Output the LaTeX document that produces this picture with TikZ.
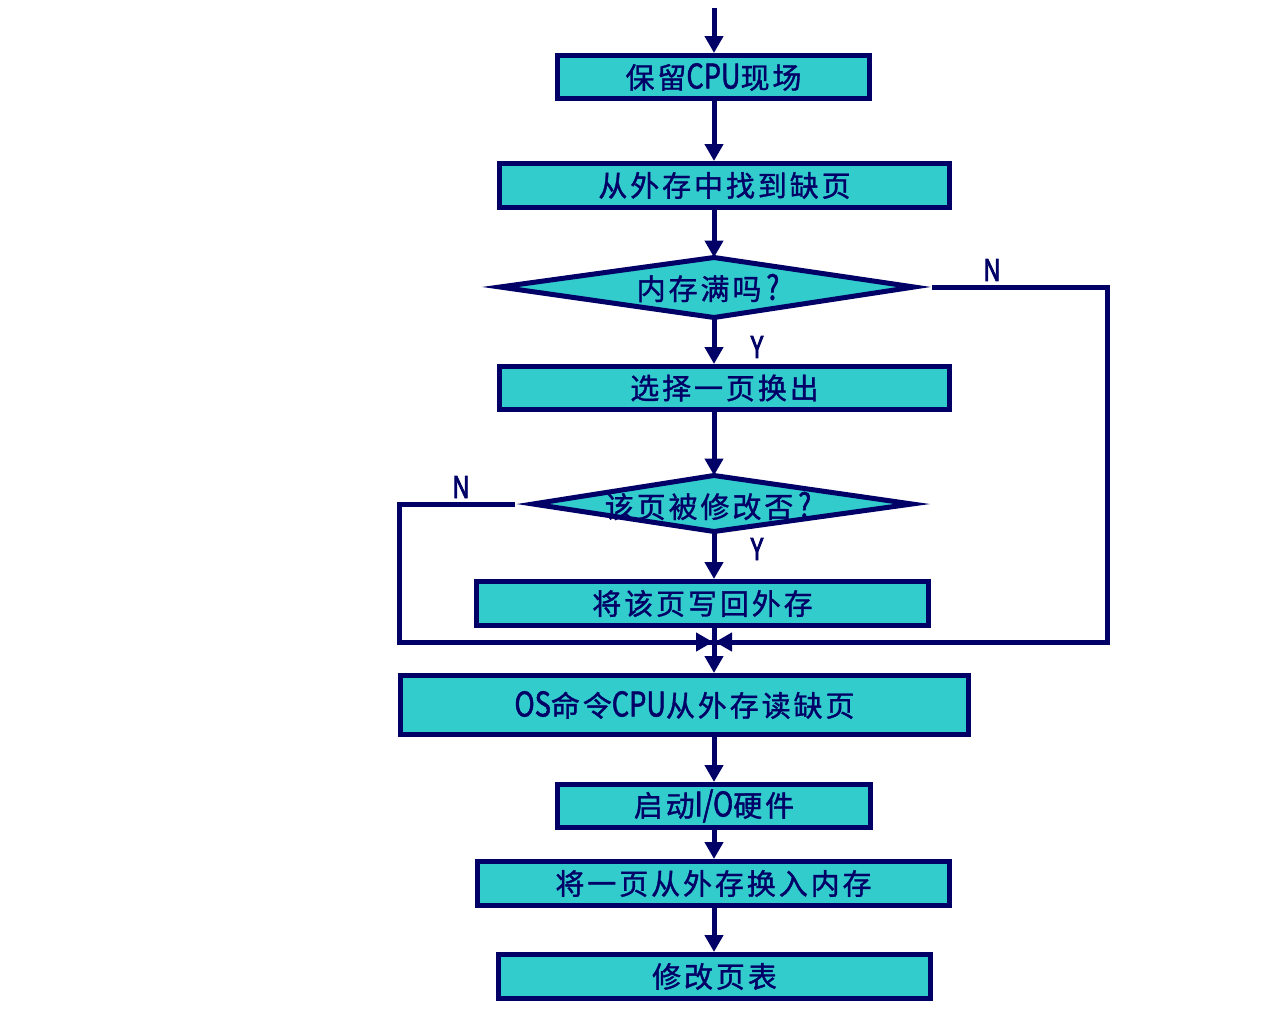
\documentclass[tikz,border=0pt]{standalone}
\usepackage{fontspec}
\setmainfont{Noto Sans CJK SC}
\newfontfamily\cjkfont{Noto Sans CJK SC}[FakeBold=1.2, LetterSpace=10]
\newfontfamily\latfont{Noto Sans CJK SC}[FakeBold=1.5, FakeStretch=0.8]
\newfontfamily\ynfont{Noto Sans CJK SC}[FakeBold=2.5, FakeStretch=0.8]
\newcommand\lat[1]{{\latfont\fontsize{34}{36}\selectfont #1}}
\usetikzlibrary{arrows.meta}
\definecolor{navy}{HTML}{000066}
\definecolor{boxfill}{HTML}{33CCCC}
\tikzset{
  procbox/.style={draw=navy, fill=boxfill, line width=5pt, inner sep=0pt,
    text=navy, font=\cjkfont\fontsize{29}{32}\selectfont},
  dtext/.style={inner sep=0pt, text=navy, font=\cjkfont\fontsize{29}{32}\selectfont},
  conn/.style={draw=navy, line width=5pt},
  arr/.style={conn, -{Triangle[width=18pt,length=17pt]}},
  yn/.style={text=navy, inner sep=0pt, font=\ynfont\fontsize{30}{32}\selectfont},
  dshape/.style={draw=navy, fill=boxfill, line width=5pt, line join=miter, miter limit=12}
}
\begin{document}
\begin{tikzpicture}[x=1pt,y=-1pt]
\useasboundingbox (0,0) rectangle (1271,1017);
% boxes
\node[procbox, minimum width=312pt, minimum height=43pt] (b1) at (713.5,77) {保留\lat{CPU}现场};
\node[procbox, minimum width=450pt, minimum height=44pt] (b2) at (724.5,185.5) {从外存中找到缺页};
\node[procbox, minimum width=450pt, minimum height=43pt] (b3) at (724.5,388) {选择一页换出};
\node[procbox, minimum width=452pt, minimum height=44pt] (b4) at (702.5,603.5) {将该页写回外存};
\node[procbox, minimum width=568pt, minimum height=59pt] (b5) at (684.5,705) {\lat{OS}命令\lat{CPU}从外存读缺页};
\node[procbox, minimum width=313pt, minimum height=43pt] (b6) at (714,806) {启动\lat{I/O}硬件};
\node[procbox, minimum width=472pt, minimum height=44pt] (b7) at (713.5,883.5) {将一页从外存换入内存};
\node[procbox, minimum width=432pt, minimum height=44pt] (b8) at (714.5,976.5) {修改页表};
% diamond 1
\coordinate (d1L) at (500,287);
\coordinate (d1T) at (714,257.5);
\coordinate (d1R) at (914,287);
\coordinate (d1B) at (714,317.5);
\coordinate (d1Rtip) at (932,287);
\path[dshape] (d1L) -- (d1T) -- (d1R) -- (d1B) -- cycle;
\node[dtext] (d1) at (708,288) {内存满吗\hspace{5pt}\lat{?}};
% diamond 2
\coordinate (d2L) at (533,504);
\coordinate (d2T) at (714,475.5);
\coordinate (d2R) at (912,504);
\coordinate (d2B) at (714,531.5);
\coordinate (d2Ltip) at (515,504);
\path[dshape] (d2L) -- (d2T) -- (d2R) -- (d2B) -- cycle;
\node[dtext] (d2) at (708,506) {该页被修改否\hspace{5pt}\lat{?}};
% junction
\coordinate (start) at (714,8);
\coordinate (rc1) at (1107,287);
\coordinate (rc2) at (1107,642);
\coordinate (lc1) at (399,504);
\coordinate (lc2) at (399,642);
\coordinate (jl) at (713,642);
\coordinate (jr) at (715,642);
% connectors
\draw[arr] (start) -- (start |- b1.north);
\draw[arr] (start |- b1.south) -- (start |- b2.north);
\draw[arr] (start |- b2.south) -- (d1T);
\draw[arr] (d1B) -- (start |- b3.north);
\draw[arr] (start |- b3.south) -- (d2T);
\draw[arr] (d2B) -- (start |- b4.north);
\draw[arr] (start |- b4.south) -- (start |- b5.north);
\draw[arr] (start |- b5.south) -- (start |- b6.north);
\draw[arr] (start |- b6.south) -- (start |- b7.north);
\draw[arr] (start |- b7.south) -- (start |- b8.north);
\draw[conn, line join=miter] (d1Rtip) -- (rc1) -- (rc2) -- (jr);
\draw[arr] (rc2) -- (jr);
\draw[conn, line join=miter] (d2Ltip) -- (lc1) -- (lc2) -- (jl);
\draw[arr] (lc2) -- (jl);
% labels
\node[yn] (n1) at (992,270) {N};
\node[yn] (y1) at (757,347) {Y};
\node[yn] (n2) at (461,487) {N};
\node[yn] (y2) at (757,549) {Y};
\end{tikzpicture}
\end{document}
